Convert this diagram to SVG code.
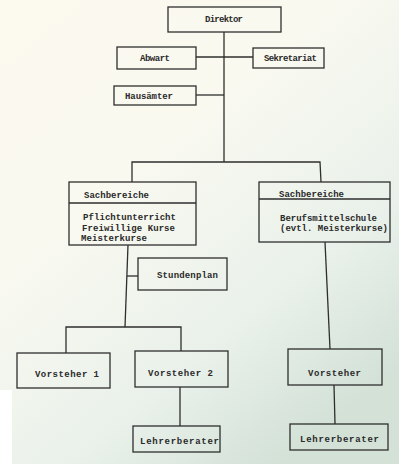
<svg xmlns="http://www.w3.org/2000/svg" width="399" height="467" viewBox="0 0 399 467">
  <defs>
    <linearGradient id="paper" x1="0" y1="0" x2="0.7" y2="1">
      <stop offset="0" stop-color="#fcf9ee"/>
      <stop offset="0.4" stop-color="#f9f9f0"/>
      <stop offset="0.75" stop-color="#e9f1ea"/>
      <stop offset="1" stop-color="#d3e1d7"/>
    </linearGradient>
    <style>
      .box { fill: none; stroke: #2e2e2e; stroke-width: 1.3; }
      .conn { fill: none; stroke: #2e2e2e; stroke-width: 1.3; }
      text { font-family: "Liberation Mono", "DejaVu Sans Mono", monospace; fill: #2a2a2a; font-size: 9px; font-weight: bold; }
    </style>
  </defs>
  <rect x="0" y="0" width="399" height="467" fill="url(#paper)"/>
  <rect x="0" y="390" width="12" height="77" fill="#ffffff"/>
  <rect x="0" y="464" width="399" height="3" fill="#ffffff"/>

  <g id="connectors">
    <path class="conn" d="M224,32 V162"/>
    <path class="conn" d="M196,57 H253"/>
    <path class="conn" d="M196,95 H224"/>
    <path class="conn" d="M132,182 V162 H320 L321,182"/>
    <path class="conn" d="M128,245 L125,327"/>
    <path class="conn" d="M127,276 H138"/>
    <path class="conn" d="M66,353 V327 H181 V351"/>
    <path class="conn" d="M180,387 V426"/>
    <path class="conn" d="M325,242 L330,349"/>
    <path class="conn" d="M334,385 L335,424"/>
  </g>

  <g id="direktor">
    <rect class="box" x="168" y="7" width="113" height="25"/>
    <text x="205" y="22" textLength="38">Direktor</text>
  </g>
  <g id="abwart">
    <rect class="box" x="117" y="47" width="79" height="22"/>
    <text x="140" y="61" textLength="30">Abwart</text>
  </g>
  <g id="sekretariat">
    <rect class="box" x="253" y="48" width="71" height="20"/>
    <text x="264" y="61" textLength="53">Sekretariat</text>
  </g>
  <g id="hausaemter">
    <rect class="box" x="114" y="86" width="82" height="19"/>
    <text x="125" y="99" textLength="48">Hausämter</text>
  </g>
  <g id="sachbereiche-links">
    <rect class="box" x="69" y="182" width="127" height="63"/>
    <path class="box" d="M69,203 H196"/>
    <text x="84" y="198" textLength="65">Sachbereiche</text>
    <text x="83" y="220" textLength="93">Pflichtunterricht</text>
    <text x="82" y="231" textLength="93">Freiwillige Kurse</text>
    <text x="81" y="241" textLength="66">Meisterkurse</text>
  </g>
  <g id="sachbereiche-rechts">
    <rect class="box" x="259" y="182" width="131" height="60"/>
    <path class="box" d="M259,199 H390"/>
    <text x="279" y="197" textLength="65">Sachbereiche</text>
    <text x="280" y="221" textLength="97">Berufsmittelschule</text>
    <text x="280" y="231" textLength="108">(evtl. Meisterkurse)</text>
  </g>
  <g id="stundenplan">
    <rect class="box" x="138" y="258" width="89" height="32"/>
    <text x="157" y="278" textLength="61">Stundenplan</text>
  </g>
  <g id="vorsteher1">
    <rect class="box" x="17" y="353" width="93" height="35"/>
    <text x="35" y="377" textLength="64" font-size="10">Vorsteher 1</text>
  </g>
  <g id="vorsteher2">
    <rect class="box" x="135" y="351" width="93" height="36"/>
    <text x="148" y="376" textLength="65" font-size="10">Vorsteher 2</text>
  </g>
  <g id="vorsteher">
    <rect class="box" x="288" y="349" width="94" height="36"/>
    <text x="308" y="376" textLength="53" font-size="10">Vorsteher</text>
  </g>
  <g id="lehrerberater-links">
    <rect class="box" x="133" y="426" width="87" height="26"/>
    <text x="140" y="444" textLength="79" font-size="10">Lehrerberater</text>
  </g>
  <g id="lehrerberater-rechts">
    <rect class="box" x="290" y="424" width="98" height="26"/>
    <text x="300" y="442" textLength="79" font-size="10">Lehrerberater</text>
  </g>
</svg>
